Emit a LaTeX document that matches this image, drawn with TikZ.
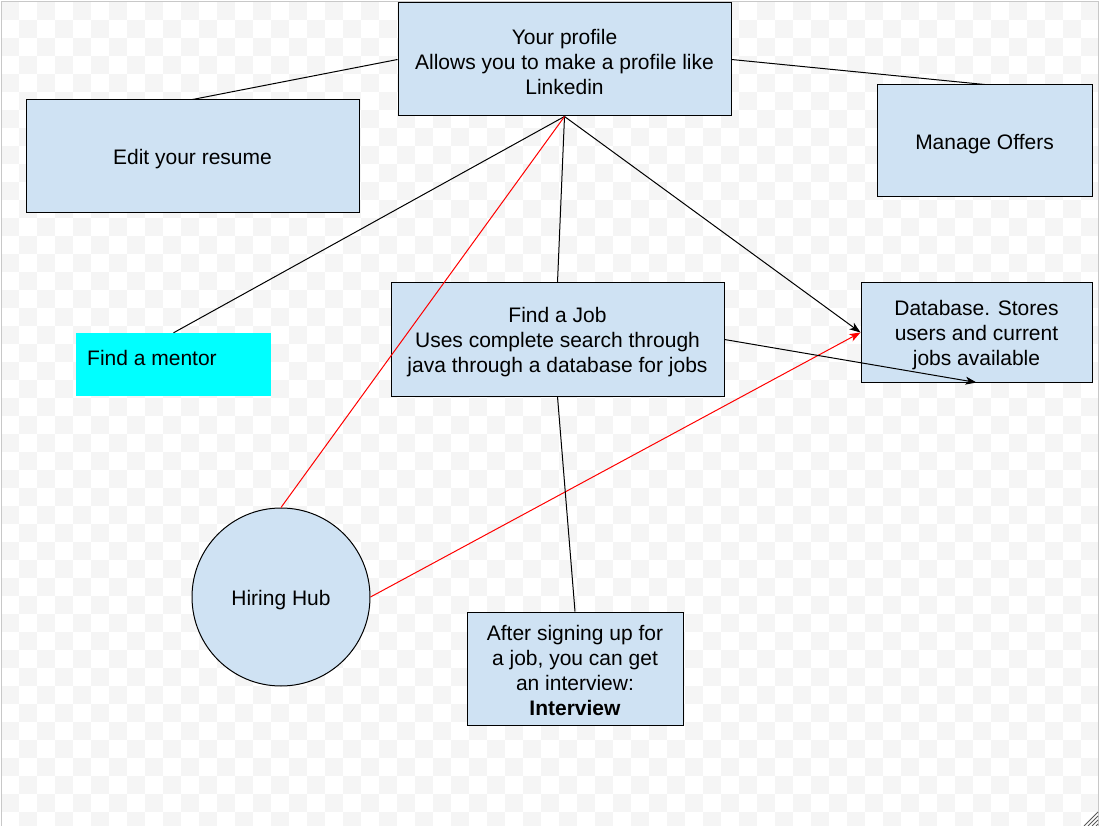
\documentclass[tikz,border=0pt]{standalone}
\usepackage{fontspec}
\setmainfont{Liberation Sans}
\usetikzlibrary{arrows.meta}
\definecolor{checkgray}{RGB}{245,245,245}
\definecolor{boxblue}{RGB}{207,226,243}
\definecolor{framegray}{RGB}{200,200,200}
\definecolor{aqua}{RGB}{0,255,255}
\newcommand{\topstrut}{\rule{0pt}{21pt}}
\tikzset{
  box/.style={draw=black, fill=boxblue, line width=1pt, inner sep=0pt, align=center,
    font=\fontsize{21}{25}\selectfont},
  conn/.style={line width=1pt, black},
  redconn/.style={line width=1pt, red},
  tip/.style={-{Stealth[length=11pt,width=8pt,inset=3pt]}}
}
\begin{document}
\begin{tikzpicture}[x=1pt,y=-1pt]
\useasboundingbox (0,0) rectangle (1100,826);
\fill[white] (0,0) rectangle (1100,826);
\begin{scope}
\clip (1,2) rectangle (1098.5,826);
\foreach \j in {0,...,46}{
  \pgfmathtruncatemacro\off{mod(\j,2)}
  \foreach \i in {0,...,31}{
    \fill[checkgray] (1.3+36*\i+18*\off, 2+18*\j) rectangle ++(18,18);
  }
}
\end{scope}
\draw[framegray, line width=1pt] (1,826) -- (1,2) -- (1098.5,2) -- (1098.5,826);
\foreach \k in {0,...,3}{
  \draw[gray!70!black, line width=0.8pt] (1084+4*\k,826) -- (1098,812+4*\k);
}

\node[box, minimum width=333pt, minimum height=113pt] (profile) at (564.5,59.5)
  {\topstrut Your profile\\Allows you to make a profile like\\Linkedin};
\node[box, minimum width=333pt, minimum height=113pt] (resume) at (192.5,156.5)
  {\topstrut Edit your resume};
\node[box, minimum width=215pt, minimum height=112pt] (offers) at (984.5,141)
  {\topstrut Manage Offers};
\node[fill=aqua, inner sep=0pt, minimum width=195pt, minimum height=63pt] (mentor) at (173.5,364.5) {};
\node[anchor=west, inner sep=0pt, font=\fontsize{21}{25}\selectfont] (mentortext) at (87,358) {Find a mentor};
\node[box, minimum width=333pt, minimum height=113pt] (job) at (557.5,339.5)
  {\topstrut Find a Job\\Uses complete search through\\java through a database for jobs};
\node[box, minimum width=231pt, minimum height=99pt] (db) at (976.5,332.5)
  {\topstrut Database. Stores\\users and current\\jobs available};
\node[box, circle, minimum size=178pt] (hub) at (281,597) {\topstrut Hiring Hub};
\node[box, minimum width=216pt, minimum height=113pt] (interview) at (575,668.5)
  {\rule{0pt}{19pt}After signing up for\\a job, you can get\\an interview:\\\textbf{Interview}};

\draw[conn] (profile.west) -- (resume.north);
\draw[conn] (profile.east) -- (offers.north);
\draw[conn] (profile.south) -- (mentor.north);
\draw[conn] (profile.south) -- (job.north);
\draw[conn, tip] (profile.south) -- (db.west);
\draw[redconn] (hub.north) -- (profile.south);
\draw[redconn, tip] (hub.east) -- (db.west);
\draw[conn, tip] (job.east) -- (db.south);
\draw[conn] (job.south) -- (interview.north);
\end{tikzpicture}
\end{document}
